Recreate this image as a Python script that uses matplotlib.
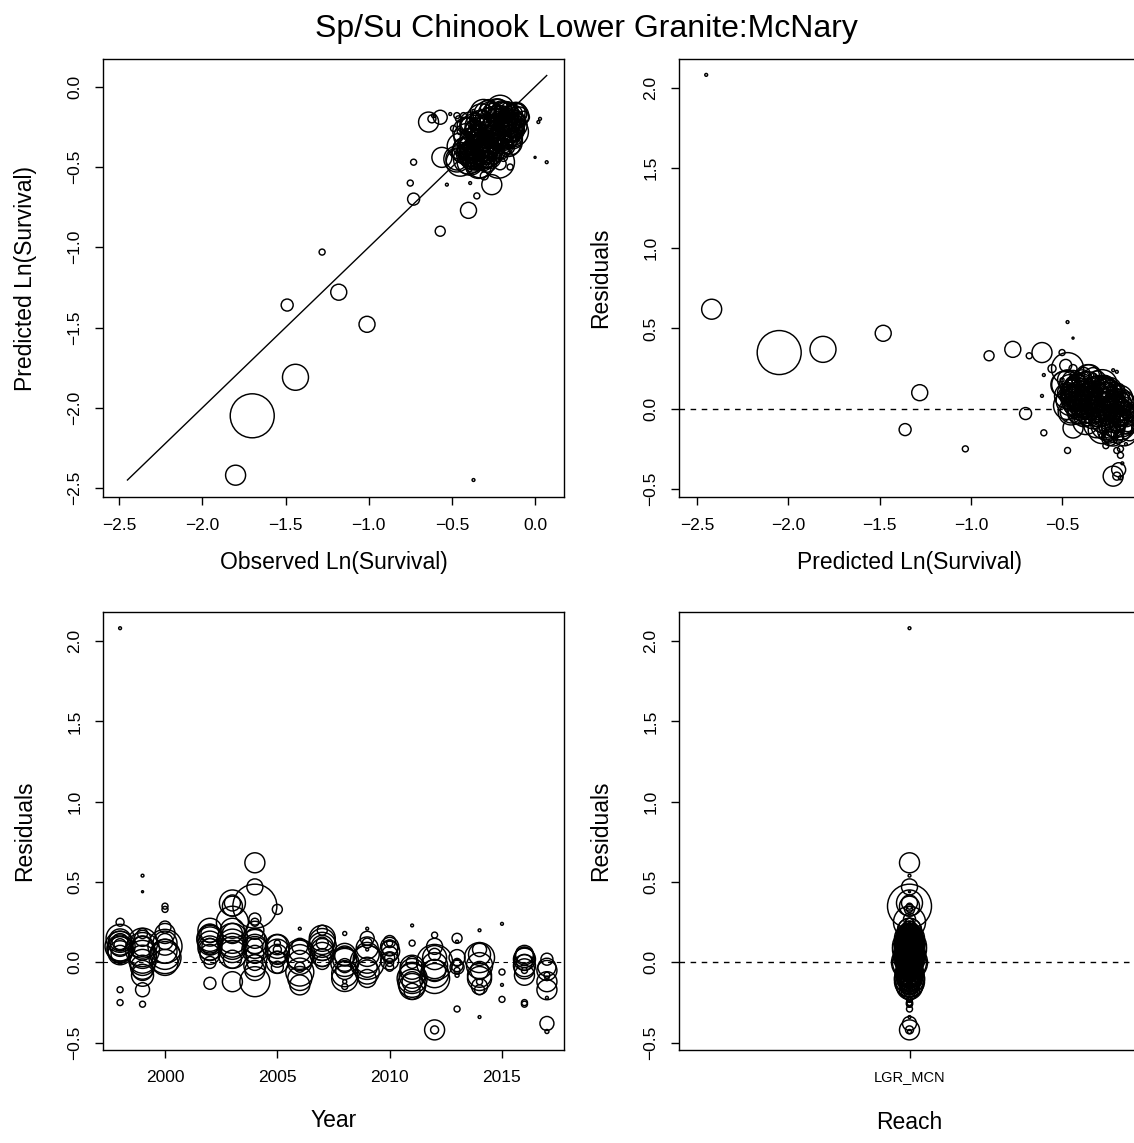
import numpy as np
import matplotlib
matplotlib.use("Agg")
import matplotlib.pyplot as plt

plt.rcParams['font.family'] = ['Liberation Sans', 'DejaVu Sans']

# reach-level survival records: release year, predicted ln(survival),
# residual (observed - predicted) and release size
year = [1998]*15 + [1999]*16 + [2000]*11 + [2002]*12 + [2003]*13 + [2004]*16 \
     + [2005]*10 + [2006]*10 + [2007]*10 + [2008]*11 + [2009]*11 + [2010]*10 \
     + [2011]*11 + [2012]*11 + [2013]*9 + [2014]*12 + [2015]*4 + [2016]*11 + [2017]*10

resid = [
    2.08, 0.25, 0.15, 0.12, 0.10, 0.10, 0.08, 0.13, 0.05, 0.11, -0.17, -0.25, 0.09, 0.14, 0.06,   # 1998
    0.54, 0.44, 0.12, 0.08, 0.05, 0.00, 0.10, 0.15, -0.05, 0.18, -0.03, -0.17, -0.26,
    0.02, 0.09, -0.08,                                                                            # 1999
    0.35, 0.33, 0.22, 0.18, 0.10, 0.03, 0.07, 0.13, 0.05, 0.12, 0.00,                             # 2000
    0.20, 0.15, 0.12, 0.08, 0.05, 0.18, 0.10, 0.00, -0.13, 0.14, 0.09, 0.17,                      # 2002
    0.37, 0.37, 0.35, 0.25, 0.15, 0.10, 0.05, 0.18, 0.02, -0.12, 0.12, 0.08, 0.20,                # 2003
    0.62, 0.47, 0.35, 0.27, 0.25, 0.20, 0.15, 0.10, 0.10, 0.05, 0.00, -0.05, -0.12,
    0.08, 0.13, -0.02,                                                                            # 2004
    0.33, 0.10, 0.08, 0.05, 0.02, 0.12, -0.03, 0.07, 0.00, 0.11,                                  # 2005
    0.21, 0.05, 0.00, -0.03, -0.14, 0.10, -0.06, 0.03, -0.10, 0.07,                               # 2006
    0.20, 0.15, 0.10, 0.08, 0.03, 0.12, 0.00, 0.13, 0.05, 0.10,                                   # 2007
    0.18, 0.05, 0.00, -0.05, -0.10, -0.15, -0.02, -0.12, 0.02, -0.07, 0.04,                       # 2008
    0.21, 0.15, 0.12, 0.05, 0.00, -0.03, -0.10, 0.08, 0.02, -0.06, 0.09,                          # 2009
    0.13, 0.12, 0.05, 0.03, 0.00, -0.03, 0.10, 0.07, 0.01, 0.09,                                  # 2010
    0.23, 0.12, -0.10, -0.15, -0.05, -0.12, 0.00, -0.18, -0.08, -0.13, -0.03,                     # 2011
    0.17, 0.10, 0.00, -0.05, -0.10, -0.42, -0.42, 0.05, -0.02, -0.07, 0.03,                       # 2012
    0.15, 0.13, 0.00, -0.02, -0.05, -0.08, -0.29, 0.03, -0.03,                                    # 2013
    0.20, 0.08, 0.03, -0.05, -0.10, -0.15, -0.17, -0.12, -0.34, -0.02, -0.08, 0.05,               # 2014
    0.24, -0.06, -0.14, -0.23,                                                                    # 2015
    0.05, 0.03, 0.00, -0.02, -0.05, -0.08, -0.25, -0.26, 0.02, -0.04, 0.04,                       # 2016
    0.02, -0.05, -0.08, -0.10, -0.17, -0.22, -0.38, -0.43, -0.03, -0.12,                          # 2017
]

pred = [
    -2.45, -0.555, -0.48, -0.30, -0.42, -0.25, -0.36, -0.45, -0.22, -0.33, -0.28, -1.03, -0.38, -0.27, -0.44,
    -0.47, -0.44, -0.41, -0.26, -0.38, -0.20, -0.47, -0.33, -0.30, -0.40, -0.17, -0.24, -0.47,
    -0.35, -0.22, -0.28,
    -0.50, -0.68, -0.38, -0.47, -0.29, -0.40, -0.18, -0.35, -0.45, -0.24, -0.30,
    -0.36, -0.49, -0.27, -0.42, -0.21, -0.31, -0.45, -0.35, -1.36, -0.40, -0.26, -0.44,
    -1.81, -0.77, -0.61, -0.47, -0.28, -0.44, -0.36, -0.39, -0.19, -0.44, -0.30, -0.47, -0.35,
    -2.42, -1.48, -2.05, -0.48, -0.44, -0.33, -0.46, -1.28, -0.24, -0.41, -0.30, -0.38, -0.20,
    -0.36, -0.27, -0.45,
    -0.90, -0.40, -0.27, -0.16, -0.34, -0.46, -0.70, -0.42, -0.25, -0.31,
    -0.60, -0.42, -0.17, -0.33, -0.25, -0.29, -0.22, -0.38, -0.17, -0.23,
    -0.38, -0.36, -0.25, -0.45, -0.30, -0.19, -0.41, -0.42, -0.20, -0.34,
    -0.50, -0.23, -0.37, -0.19, -0.31, -0.60, -0.14, -0.17, -0.42, -0.27, -0.16,
    -0.32, -0.44, -0.23, -0.36, -0.28, -0.41, -0.16, -0.61, -0.47, -0.20, -0.30,
    -0.27, -0.49, -0.43, -0.19, -0.35, -0.15, -0.38, -0.24, -0.41, -0.46,
    -0.20, -0.34, -0.26, -0.16, -0.33, -0.21, -0.14, -0.24, -0.37, -0.28, -0.19,
    -0.43, -0.21, -0.30, -0.24, -0.18, -0.22, -0.20, -0.40, -0.45, -0.14, -0.26,
    -0.29, -0.46, -0.22, -0.39, -0.15, -0.31, -0.18, -0.33, -0.18,
    -0.45, -0.17, -0.27, -0.36, -0.22, -0.13, -0.19, -0.28, -0.17, -0.40, -0.15, -0.30,
    -0.22, -0.25, -0.19, -0.26,
    -0.44, -0.21, -0.33, -0.16, -0.27, -0.14, -0.18, -0.20, -0.38, -0.24, -0.17,
    -0.37, -0.15, -0.26, -0.19, -0.22, -0.15, -0.19, -0.18, -0.32, -0.24,
]

n_rel = [
    2, 16, 196, 144, 225, 100, 169, 64, 81, 36, 9, 9, 169, 121, 144,
    2, 1, 225, 289, 196, 169, 100, 64, 100, 25, 144, 49, 9,
    196, 144, 121,
    9, 9, 36, 100, 289, 256, 144, 64, 225, 144, 169,
    144, 169, 144, 121, 100, 81, 64, 36, 36, 169, 144, 121,
    169, 64, 100, 256, 225, 169, 196, 100, 81, 100, 196, 169, 144,
    100, 64, 484, 36, 16, 81, 100, 64, 144, 81, 64, 100, 225,
    169, 144, 121,
    25, 144, 16, 100, 64, 9, 36, 144, 121, 100,
    2, 225, 144, 25, 100, 64, 196, 169, 144, 121,
    25, 169, 196, 121, 81, 36, 49, 169, 144, 121,
    4, 121, 196, 81, 169, 9, 49, 4, 144, 169, 100,
    2, 49, 25, 144, 289, 100, 81, 2, 196, 144, 121,
    36, 9, 64, 25, 16, 16, 81, 100, 81, 64,
    2, 9, 225, 169, 144, 100, 36, 64, 169, 196, 144,
    9, 64, 324, 121, 225, 100, 16, 36, 169, 196, 144,
    25, 2, 16, 36, 9, 4, 9, 64, 49,
    2, 49, 225, 81, 144, 64, 25, 9, 2, 169, 144, 121,
    2, 9, 2, 9,
    81, 100, 64, 121, 9, 100, 9, 9, 121, 100, 81,
    36, 100, 9, 4, 100, 2, 49, 4, 81, 100,
]

reach_name = "LGR_MCN"

year = np.array(year)
resid = np.array(resid)
pred = np.array(pred)
obs = pred + resid
# circle radius grows with sqrt(release size); scatter wants area in pt^2
sz = (2 * np.sqrt(np.array(n_rel)) * 0.72) ** 2

fig = plt.figure(figsize=(11.34, 11.43), dpi=100)
fig.text(0.517, 0.975, "Sp/Su Chinook Lower Granite:McNary", ha='center', va='center', fontsize=23)

W = 461 / 1134
H_top = (496.7 - 59.3) / 1143
H_bot = (1049.5 - 612.3) / 1143
ax1 = fig.add_axes([103 / 1134, 1 - 496.7 / 1143, W, H_top])
ax2 = fig.add_axes([679 / 1134, 1 - 496.7 / 1143, W, H_top])
ax3 = fig.add_axes([103 / 1134, 1 - 1049.5 / 1143, W, H_bot])
ax4 = fig.add_axes([679 / 1134, 1 - 1049.5 / 1143, W, H_bot])

pt_kw = dict(facecolors='none', edgecolors='black', linewidths=1.05)
lab_fs = 16.5

def style(ax):
    for s in ax.spines.values():
        s.set_linewidth(1.0)
    ax.tick_params(direction='out', length=6, width=1.0, pad=9, labelsize=12.5)
    ax.tick_params(axis='y', labelrotation=90)
    for lab in ax.get_yticklabels():
        lab.set_va('center')

# observed vs predicted
ax1.scatter(obs, pred, s=sz, **pt_kw)
lo = min(obs.min(), pred.min())
hi = max(obs.max(), pred.max())
ax1.plot([lo, hi], [lo, hi], color='black', lw=1.0)
ax1.set_xlim(-2.597, 0.174)
ax1.set_ylim(-2.554, 0.171)
ax1.set_xticks(np.arange(-2.5, 0.01, 0.5))
ax1.set_yticks(np.arange(-2.5, 0.01, 0.5))
ax1.set_xlabel("Observed Ln(Survival)", fontsize=lab_fs, labelpad=13)
ax1.set_ylabel("Predicted Ln(Survival)", fontsize=lab_fs, labelpad=22)

# residuals vs predicted
ax2.scatter(pred, resid, s=sz, **pt_kw)
ax2.axhline(0, color='black', lw=1.0, ls=(0, (4, 4)))
ax2.set_xlim(-2.599, -0.073)
ax2.set_ylim(-0.548, 2.177)
ax2.set_xticks(np.arange(-2.5, -0.49, 0.5))
ax2.set_yticks(np.arange(-0.5, 2.01, 0.5))
ax2.set_xlabel("Predicted Ln(Survival)", fontsize=lab_fs, labelpad=13)
ax2.set_ylabel("Residuals", fontsize=lab_fs, labelpad=22)

# residuals by year
ax3.scatter(year, resid, s=sz, **pt_kw)
ax3.axhline(0, color='black', lw=0.8, ls=(0, (4, 4)))
ax3.set_xlim(1997.24, 2017.76)
ax3.set_ylim(-0.542, 2.179)
ax3.set_xticks([2000, 2005, 2010, 2015])
ax3.set_yticks(np.arange(-0.5, 2.01, 0.5))
ax3.set_xlabel("Year", fontsize=lab_fs, labelpad=17)
ax3.set_ylabel("Residuals", fontsize=lab_fs, labelpad=22)

# residuals by reach
ax4.scatter(np.zeros(len(resid)), resid, s=sz, **pt_kw)
ax4.axhline(0, color='black', lw=1.0, ls=(0, (4, 4)))
ax4.set_xlim(-1, 1)
ax4.set_ylim(-0.542, 2.179)
ax4.set_xticks([0])
ax4.set_xticklabels([reach_name])
ax4.set_yticks(np.arange(-0.5, 2.01, 0.5))
ax4.set_xlabel("Reach", fontsize=lab_fs, labelpad=19)
ax4.set_ylabel("Residuals", fontsize=lab_fs, labelpad=22)

for ax in (ax1, ax2, ax3, ax4):
    style(ax)
ax4.tick_params(axis='x', labelsize=10.5)

fig.savefig("out.png", dpi=100)
